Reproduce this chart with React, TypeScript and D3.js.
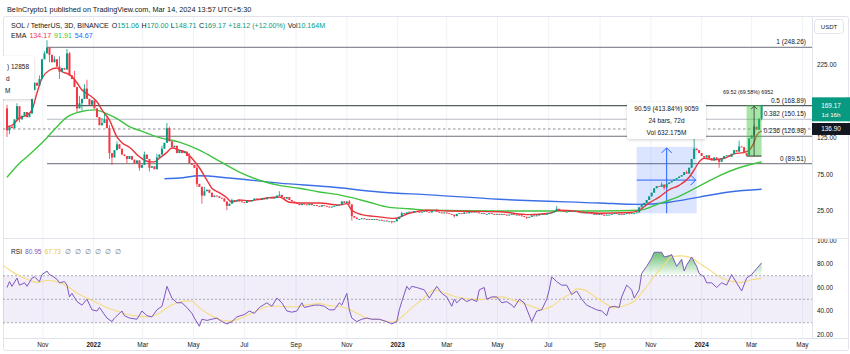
import * as d3 from "d3";

// 3-day candles, bar 0 = 2021-09-19
const startDate = "2021-09-19";
const firstOpen = 165;
const closes = [
  135, 140, 138, 150, 168, 150, 155, 160, 153, 158,
  190, 200, 196, 205, 232, 240, 248, 238, 228, 232,
  222, 215, 220, 218, 240, 210, 205, 194, 165, 172,
  178, 192, 178, 170, 176, 165, 153, 142, 145, 150,
  138, 104, 98, 108, 116, 110, 102, 100, 96, 100,
  95, 90, 94, 84, 88, 102, 96, 84, 86, 82,
  98, 102, 110, 118, 138, 120, 112, 114, 104, 108,
  104, 106, 100, 90, 88, 84, 62, 58, 46, 52,
  54, 50, 44, 46, 45, 43, 42, 38, 32, 35,
  40, 38, 40, 38, 37, 36, 39, 38, 40, 42,
  41, 40, 42, 41, 43, 44, 42, 43, 46, 47,
  44, 42, 44, 40, 38, 36, 35, 33, 35, 34,
  33, 35, 33, 33, 32, 31, 33, 32, 31, 30,
  31, 32, 33, 34, 38, 36, 38, 34, 18, 16,
  14, 14, 15, 14, 14, 13, 14, 14, 13, 13,
  12, 12, 11, 11, 10, 11, 14, 17, 22, 21,
  23, 24, 23, 25, 24, 23, 24, 25, 24, 23,
  25, 26, 24, 23, 22, 23, 22, 21, 20, 18,
  21, 22, 21, 23, 22, 24, 23, 24, 23, 22,
  22, 21, 21, 22, 21, 20, 21, 20, 21, 20,
  19, 20, 21, 20, 20, 19, 18, 17, 16, 17,
  19, 18, 19, 20, 21, 20, 21, 22, 23, 25,
  28, 26, 25, 24, 24, 25, 24, 25, 24, 23,
  23, 22, 23, 22, 21, 21, 20, 21, 20, 19,
  20, 20, 21, 22, 21, 21, 20, 21, 22, 21,
  22, 22, 23, 30, 33, 36, 40, 45, 50, 56,
  59, 58, 61, 57, 62, 64, 66, 68, 70, 72,
  74, 78, 76, 84, 96, 110, 108, 104, 100, 98,
  101, 97, 94, 98, 96, 92, 97, 100, 101, 99,
  103, 108, 106, 113, 112, 104, 101, 124, 128, 140,
  136, 151, 169,
];
const wickHighs = [
  [0, 170], [4, 172], [10, 195], [13, 210], [15, 243], [16, 258], [19, 236], [21, 236],
  [24, 246], [25, 242], [27, 216], [29, 182], [31, 198], [32, 204], [38, 152], [39, 158],
  [40, 155], [41, 142], [44, 120], [55, 106], [60, 103], [62, 114], [64, 145], [65, 140],
  [73, 104], [76, 88], [79, 58], [90, 42], [109, 52], [137, 40], [158, 24], [172, 28],
  [220, 32], [262, 64], [272, 80], [275, 126], [293, 121], [299, 142], [302, 170],
];
const wickLows = [
  [0, 126], [1, 130], [5, 146], [17, 228], [21, 205], [28, 160], [30, 162], [41, 96],
  [42, 88], [48, 90], [53, 80], [57, 79], [76, 58], [78, 35], [88, 26], [138, 12],
  [154, 8], [179, 16], [208, 14], [239, 18], [263, 54], [285, 84], [296, 99.91], [302, 148.71],
];

// EMA lines, [bar, price]
const emaFast = [
  [0, 140], [2, 142], [5, 152], [8, 156], [10, 163], [12, 186], [14, 206], [17, 217], [20, 220],
  [22, 215], [25, 211], [28, 200], [30, 190], [33, 183], [36, 174], [38, 163], [41, 149], [44, 126],
  [46, 118], [49, 112], [53, 99], [57, 92], [59, 92], [61, 97], [64, 105], [66, 111], [69, 108],
  [72, 104], [74, 97], [77, 84], [80, 67], [82, 56], [85, 50], [88, 43], [90, 37], [93, 40],
  [97, 39], [101, 41], [105, 43], [109, 44], [113, 37], [117, 36], [125, 36], [133, 33], [136, 35],
  [138, 26], [142, 20], [149, 17], [155, 15], [161, 22], [168, 26], [177, 25], [197, 24], [209, 20],
  [217, 22], [221, 26], [237, 22], [249, 23], [253, 26], [257, 36], [261, 44], [265, 54], [269, 60],
  [273, 71], [275, 81], [277, 92], [279, 97], [283, 95], [287, 97], [291, 103], [295, 105],
  [297, 108], [299, 119], [300, 128], [302, 134.17],
];
const emaMid = [
  [0, 71], [5, 90], [10, 105], [16, 125], [20, 140], [24, 153], [29, 160], [35, 163], [41, 156],
  [45, 149], [49, 140], [53, 135], [61, 125], [69, 119], [77, 108], [85, 93], [93, 78], [101, 67],
  [109, 60], [117, 56], [125, 51], [133, 47], [137, 44], [145, 37], [153, 30], [161, 28], [169, 26],
  [197, 25], [237, 25], [253, 26], [261, 35], [269, 45], [277, 59], [285, 73], [293, 84], [302, 91.91],
];
const emaSlow = [
  [63, 69], [69, 70], [77, 73], [89, 70], [109, 63], [129, 58], [149, 51], [169, 47], [197, 41],
  [237, 36], [253, 34], [265, 37], [277, 44], [289, 51], [302, 54.67],
];

// RSI and its moving average, [bar, value]
const rsiValues = [
  [0, 60], [1, 65], [2, 61], [4, 68], [5, 62], [7, 64], [8, 61], [10, 68], [11, 69], [13, 65],
  [14, 71], [16, 74], [17, 71], [18, 70], [20, 67], [21, 64], [23, 65], [24, 62], [25, 52], [26, 55],
  [28, 48], [30, 45], [32, 50], [34, 41], [36, 40], [37, 43], [38, 40], [40, 34], [42, 31], [43, 34],
  [46, 40], [47, 36], [49, 34], [52, 33], [54, 40], [56, 36], [58, 35], [60, 41], [62, 44], [63, 52],
  [64, 61], [66, 51], [68, 47], [70, 47], [72, 43], [74, 38], [75, 34], [77, 27], [78, 33], [80, 32],
  [82, 33], [84, 34], [86, 31], [88, 29], [90, 31], [92, 35], [95, 37], [97, 40], [99, 38], [101, 43],
  [104, 47], [106, 44], [108, 51], [110, 47], [112, 40], [114, 39], [116, 40], [118, 47], [119, 43],
  [121, 44], [123, 45], [125, 45], [127, 44], [129, 41], [131, 41], [133, 47], [134, 45], [136, 55],
  [137, 41], [138, 34], [140, 31], [142, 33], [144, 34], [146, 33], [149, 33], [152, 31], [154, 29],
  [156, 31], [157, 41], [158, 48], [160, 61], [161, 58], [162, 61], [164, 60], [167, 58], [169, 51],
  [172, 61], [174, 55], [176, 52], [178, 44], [179, 50], [180, 47], [182, 51], [184, 48], [186, 50],
  [188, 48], [189, 58], [191, 60], [192, 50], [194, 52], [196, 52], [198, 47], [200, 48], [202, 45],
  [203, 43], [205, 50], [207, 47], [210, 31], [212, 40], [214, 41], [216, 50], [217, 58], [218, 69],
  [220, 65], [222, 62], [224, 62], [226, 54], [228, 57], [230, 50], [232, 45], [234, 43], [236, 41],
  [238, 40], [240, 36], [241, 43], [243, 44], [245, 43], [246, 52], [248, 62], [250, 58], [251, 51],
  [253, 58], [254, 72], [256, 78], [258, 85], [259, 90], [262, 90], [263, 86], [265, 87], [266, 88],
  [268, 78], [270, 84], [271, 74], [272, 79], [274, 86], [276, 78], [277, 72], [279, 69], [280, 64],
  [282, 64], [284, 60], [286, 64], [288, 62], [290, 71], [292, 64], [294, 57], [296, 68], [298, 71],
  [300, 76], [302, 80.95],
];
const rsiMa = [
  [-3, 81], [0, 76.5], [4, 71], [8, 67], [12, 64.4], [16, 66], [20, 65], [24, 61], [28, 55.4],
  [32, 51], [36, 47], [40, 42.7], [44, 40], [48, 37], [52, 35.6], [56, 35], [60, 37], [64, 42.7],
  [68, 47], [72, 48.6], [74, 48.3], [77, 42.7], [81, 37], [85, 32.8], [89, 31.4], [93, 33.4],
  [97, 37], [101, 41.3], [105, 44], [109, 44], [113, 43.5], [117, 44], [121, 45.5], [125, 46.3],
  [129, 44.6], [133, 44], [137, 41.3], [141, 37], [145, 33.4], [149, 32.8], [153, 30.6], [156, 31.4],
  [158, 35], [162, 42.7], [166, 49.4], [171, 58], [175, 55.4], [179, 52.5], [184, 50.3], [190, 49.7],
  [194, 51], [198, 52], [202, 49.7], [206, 47], [210, 44], [214, 41.3], [218, 44], [222, 50.3],
  [226, 55.4], [228, 58.8], [231, 58], [235, 52.5], [239, 47], [243, 42.7], [247, 44.6], [251, 48.3],
  [255, 58], [259, 69.4], [263, 79.3], [266, 86.3], [270, 86.9], [274, 85], [278, 79.3], [282, 73.7],
  [286, 68], [290, 65.2], [294, 64.4], [298, 66.6], [302, 67.73],
];

// fib retracement drawn from the Nov 2021 high
const fibRatios = ["1", "0.5", "0.382", "0.236", "0"];
const fibPrices = [248.26, 168.89, 150.15, 126.98, 89.51];
const fibColors = ["#8a8d96", "#55605d", "#b9bcc4", "#6f727c", "#85888f"];
const fibStartBar = 16;
const markedPrice = 136.9;
const lastPrice = 169.17;

// measurement drawings: [fromBar, toBar, lowPrice, highPrice]
const blueRange = [252, 276, 21.89, 112.48];
const greenRange = [296, 302, 99.91, 169.43];

const priceTicks = [25, 75, 125, 175, 225];
const rsiTicks = [20, 40, 60, 80, 100];
const rsiLevels = [70, 50, 30];
const timeTicks = [
  "2021-11-01", "2022-01-01", "2022-03-01", "2022-05-01", "2022-07-01", "2022-09-01",
  "2022-11-01", "2023-01-01", "2023-03-01", "2023-05-01", "2023-07-01", "2023-09-01",
  "2023-11-01", "2024-01-01", "2024-03-01", "2024-05-01",
];
const timeLabels = ["Nov", "2022", "Mar", "May", "Jul", "Sep", "Nov", "2023", "Mar", "May", "Jul", "Sep", "Nov", "2024", "Mar", "May"];

const F = "'Liberation Sans', Arial, Helvetica, sans-serif";
const TXT = "#131722";
const UP = "#089981";
const DOWN = "#f23645";
const PL = 3, PR = 812;
const PT = 17, PB = 238;
const RT = 239, RB = 338;

export default function App() {
  const xs = d3.scaleLinear().domain([0, 302]).range([7, 761.6]);
  const ps = d3.scaleLinear().domain([25, 225]).range([211, 64.4]);
  const rs = d3.scaleLinear().domain([20, 100]).range([334.5, 240.5]);
  const t0 = Date.parse(startDate + "T00:00:00Z");
  const toBar = (s: string) => (Date.parse(s + "T00:00:00Z") - t0) / (3 * 86400000);

  const hi = new Map(wickHighs.map((d) => [d[0], d[1]]));
  const lo = new Map(wickLows.map((d) => [d[0], d[1]]));
  const candles = closes.map((c, i) => {
    const o = i === 0 ? firstOpen : closes[i - 1];
    return {
      i, o, c,
      h: Math.max(o, c, hi.get(i) ?? 0),
      l: Math.min(o, c, lo.get(i) ?? 1e9),
    };
  });

  const priceLine = d3.line<number[]>().x((d) => xs(d[0])).y((d) => ps(d[1])).curve(d3.curveMonotoneX);
  const rsiLine = d3.line<number[]>().x((d) => xs(d[0])).y((d) => rs(d[1]));
  const maLine = d3.line<number[]>().x((d) => xs(d[0])).y((d) => rs(d[1])).curve(d3.curveMonotoneX);
  const obArea = d3.area<number[]>().x((d) => xs(d[0])).y0(rs(70)).y1((d) => rs(d[1]));
  const osArea = d3.area<number[]>().x((d) => xs(d[0])).y0(rs(30)).y1((d) => rs(d[1]));

  const [bx0, bx1, bLo, bHi] = blueRange;
  const bL = xs(bx0), bR = xs(bx1), bT = ps(bHi), bB = ps(bLo);
  const bMidX = xs((bx0 + bx1) / 2), bMidY = ps((bLo + bHi) / 2);
  const [gx0, gx1, gLo, gHi] = greenRange;
  const gL = xs(gx0), gR = xs(gx1), gT = ps(gHi), gB = ps(gLo);
  const gMidX = (gL + gR) / 2;
  const fibX = xs(fibStartBar);
  const lastTop = ps(lastPrice) - 8;

  const legendOHLC = [["O", "151.06"], ["H", "170.00"], ["L", "148.71"], ["C", "169.17"]];

  return (
    <svg width={850} height={354} style={{ position: "absolute", left: 0, top: 0, background: "#fff" }} fontFamily={F}>
      <defs>
        <clipPath id="pricePane"><rect x={PL} y={PT} width={PR - PL} height={PB - PT} /></clipPath>
        <clipPath id="rsiPane"><rect x={PL} y={RT} width={PR - PL} height={RB - RT} /></clipPath>
        <clipPath id="obClip"><rect x={PL} y={RT} width={PR - PL} height={rs(70) - RT} /></clipPath>
        <clipPath id="osClip"><rect x={PL} y={rs(30)} width={PR - PL} height={RB - rs(30)} /></clipPath>
        <clipPath id="axisR"><rect x={PR} y={RT} width={850 - PR} height={RB - RT} /></clipPath>
        <clipPath id="axisHidden"><rect x={PR} y={PT} width={850 - PR} height={lastTop - PT} /></clipPath>
        <linearGradient id="obGrad" gradientUnits="userSpaceOnUse" x1={0} y1={rs(92)} x2={0} y2={rs(70)}>
          <stop offset="0" stopColor="#3fae4a" stopOpacity={0.85} />
          <stop offset="1" stopColor="#3fae4a" stopOpacity={0.02} />
        </linearGradient>
        <linearGradient id="osGrad" gradientUnits="userSpaceOnUse" x1={0} y1={rs(30)} x2={0} y2={rs(22)}>
          <stop offset="0" stopColor="#f23645" stopOpacity={0.02} />
          <stop offset="1" stopColor="#f23645" stopOpacity={0.6} />
        </linearGradient>
        <filter id="shadow" x="-20%" y="-30%" width="140%" height="160%">
          <feDropShadow dx={0} dy={1} stdDeviation={1.5} floodColor="#000" floodOpacity={0.18} />
        </filter>
      </defs>

      <text x={7} y={12} fontSize={7.3} fill={TXT}>BeInCrypto1 published on TradingView.com, Mar 14, 2024 13:57 UTC+5:30</text>

      {/* frame and separators */}
      <rect x={PL + 0.5} y={PT - 0.5} width={845} height={334} rx={2} fill="#fff" stroke="#e0e3eb" />
      {timeTicks.map((t, i) => (
        <line key={"vg" + i} x1={xs(toBar(t))} x2={xs(toBar(t))} y1={PT} y2={RB} stroke="#f0f2f7" />
      ))}
      <line x1={PL} x2={849} y1={PB + 0.5} y2={PB + 0.5} stroke="#e0e3eb" />
      <line x1={PL} x2={849} y1={RB + 0.5} y2={RB + 0.5} stroke="#e0e3eb" />
      <line x1={PR + 0.5} x2={PR + 0.5} y1={PT} y2={RB} stroke="#e0e3eb" />

      {/* price pane */}
      <g clipPath="url(#pricePane)">
        {fibPrices.map((p, i) => (
          <line key={"fib" + i} x1={fibX} x2={PR} y1={ps(p)} y2={ps(p)} stroke={fibColors[i]} strokeWidth={1.2} />
        ))}
        <line x1={PL} x2={PR} y1={ps(markedPrice)} y2={ps(markedPrice)} stroke="#8a8d96" strokeDasharray="2.5,2.5" />
        {fibPrices.map((p, i) => (
          <text key={"fl" + i} x={806} y={ps(p) - 3} fontSize={6.5} fill={TXT} textAnchor="end">
            {fibRatios[i]} ({p.toFixed(2)})
          </text>
        ))}

        <rect x={bL} y={bT} width={bR - bL} height={bB - bT} fill="rgba(41,98,255,0.17)" />
        <line x1={bMidX} x2={bMidX} y1={bB} y2={bT + 1} stroke="#2962ff" />
        <path d={`M${bMidX - 5},${bT + 6}L${bMidX},${bT + 1}L${bMidX + 5},${bT + 6}`} fill="none" stroke="#2962ff" />
        <line x1={bL} x2={bR - 1} y1={bMidY} y2={bMidY} stroke="#2962ff" />
        <path d={`M${bR - 6},${bMidY - 5}L${bR - 1},${bMidY}L${bR - 6},${bMidY + 5}`} fill="none" stroke="#2962ff" />

        <path d={priceLine(emaSlow) ?? ""} fill="none" stroke="#3b6fe6" strokeWidth={1.4} />
        <path d={priceLine(emaMid) ?? ""} fill="none" stroke="#3ec43e" strokeWidth={1.4} />
        <path d={priceLine(emaFast) ?? ""} fill="none" stroke="#e8343c" strokeWidth={1.4} />

        {candles.map((d) => {
          const col = d.c >= d.o ? UP : DOWN;
          const top = ps(Math.max(d.o, d.c));
          const bot = ps(Math.min(d.o, d.c));
          return (
            <g key={"c" + d.i}>
              <line x1={xs(d.i)} x2={xs(d.i)} y1={ps(d.h)} y2={ps(d.l)} stroke={col} strokeWidth={0.8} />
              <rect x={xs(d.i) - 1} y={top} width={2} height={Math.max(0.9, bot - top)} fill={col} />
            </g>
          );
        })}

        <rect x={gL} y={gT} width={gR - gL} height={gB - gT} fill="rgba(60,200,60,0.45)" />
        <line x1={gL} x2={gR} y1={gB} y2={gB} stroke="#333" />
        <line x1={gMidX} x2={gMidX} y1={gB} y2={gT + 1} stroke="#333" strokeWidth={0.8} />
        <path d={`M${gMidX - 3},${gT + 4}L${gMidX},${gT + 1}L${gMidX + 3},${gT + 4}`} fill="none" stroke="#333" strokeWidth={0.8} />
        <text x={gMidX - 6} y={94} fontSize={5.4} fill={TXT} textAnchor="middle">69.52 (69.58%) 6952</text>

        <g filter="url(#shadow)">
          <rect x={627} y={102} width={79} height={37} rx={2} fill="#fff" />
          <rect x={-46} y={56} width={80} height={43} rx={2} fill="#fff" />
        </g>
        <g fontSize={6.5} fill={TXT} textAnchor="middle">
          <text x={666.5} y={110.5}>90.59 (413.84%) 9059</text>
          <text x={666.5} y={123}>24 bars, 72d</text>
          <text x={666.5} y={135}>Vol 632.175M</text>
        </g>
        <g fontSize={6.5} fill={TXT} textAnchor="end">
          <text x={29} y={68.5}>) 12858</text>
          <text x={9.5} y={81}>d</text>
          <text x={10.5} y={93}>M</text>
        </g>
      </g>

      {/* legends */}
      <text x={11} y={28.3} fontSize={7.1} fill={TXT}>
        SOL / TetherUS, 3D, BINANCE
        {legendOHLC.map((d, i) => (
          <tspan key={"lg" + i}>
            <tspan dx={i === 0 ? 3 : 2.5}>{d[0]}</tspan>
            <tspan fill={UP}>{d[1]}</tspan>
          </tspan>
        ))}
        <tspan fill={UP} dx={2.5}>+18.12 (+12.00%)</tspan>
        <tspan dx={2.5}>Vol</tspan>
        <tspan fill={UP}>10.164M</tspan>
      </text>
      <text x={11} y={38.3} fontSize={7.1} fill={TXT}>
        EMA
        <tspan dx={3} fill="#f23645">134.17</tspan>
        <tspan dx={3} fill="#3ec43e">91.91</tspan>
        <tspan dx={3} fill="#2962ff">54.67</tspan>
      </text>

      {/* RSI pane */}
      <g clipPath="url(#rsiPane)">
        <rect x={PL} y={rs(70)} width={PR - PL} height={rs(30) - rs(70)} fill="rgba(126,87,194,0.1)" />
        {rsiLevels.map((v) => (
          <line key={"rl" + v} x1={PL} x2={PR} y1={rs(v)} y2={rs(v)} stroke="#9598a1" strokeDasharray="2,2" strokeWidth={0.8} />
        ))}
        <path d={obArea(rsiValues) ?? ""} fill="url(#obGrad)" clipPath="url(#obClip)" />
        <path d={osArea(rsiValues) ?? ""} fill="url(#osGrad)" clipPath="url(#osClip)" />
        <path d={maLine(rsiMa) ?? ""} fill="none" stroke="#f5dc82" strokeWidth={1.1} />
        <path d={rsiLine(rsiValues) ?? ""} fill="none" stroke="#7e57c2" strokeWidth={1} />
      </g>
      <text x={11} y={253.5} fontSize={6.6} fill={TXT}>
        RSI
        <tspan dx={3} fill="#7e57c2">80.95</tspan>
        <tspan dx={3} fill="#e6c34f">67.73</tspan>
        {[0, 1, 2, 3, 4, 5].map((k) => (
          <tspan key={"e" + k} dx={4} fill="#787b86">∅</tspan>
        ))}
      </text>

      {/* price axis */}
      {priceTicks.filter((p) => ps(p) + 3 < lastTop || ps(p) - 3 > lastTop + 24).map((p) => (
        <text key={"pt" + p} x={817} y={ps(p) + 2.3} fontSize={6.4} fill={TXT}>{p.toFixed(2)}</text>
      ))}
      <g clipPath="url(#axisHidden)">
        {priceTicks.filter((p) => !(ps(p) + 3 < lastTop || ps(p) - 3 > lastTop + 24)).map((p) => (
          <text key={"ph" + p} x={817} y={ps(p) + 2.3} fontSize={6.4} fill={TXT}>{p.toFixed(2)}</text>
        ))}
      </g>
      <g clipPath="url(#axisR)">
        {rsiTicks.map((v) => (
          <text key={"rt" + v} x={817} y={rs(v) + 2.3} fontSize={6.4} fill={TXT}>{v.toFixed(2)}</text>
        ))}
      </g>
      <rect x={814.5} y={19.5} width={29} height={14} rx={3} fill="#fff" stroke="#e0e3eb" />
      <text x={829} y={28.5} fontSize={6} fill={TXT} textAnchor="middle">USDT</text>
      <rect x={PR} y={lastTop} width={38} height={24} fill={UP} />
      <text x={831} y={ps(lastPrice) + 2.3} fontSize={6.4} fill="#fff" textAnchor="middle">{lastPrice.toFixed(2)}</text>
      <text x={831} y={ps(lastPrice) + 11.5} fontSize={6.2} fill="#fff" textAnchor="middle">1d 16h</text>
      <rect x={PR} y={ps(markedPrice) - 6} width={38} height={12} fill="#131722" />
      <text x={831} y={ps(markedPrice) + 2.3} fontSize={6.4} fill="#fff" textAnchor="middle">{markedPrice.toFixed(2)}</text>

      {/* time axis */}
      {timeTicks.map((t, i) => (
        <text
          key={"tl" + i}
          x={xs(toBar(t))}
          y={346.5}
          fontSize={6.4}
          fill={TXT}
          textAnchor="middle"
          fontWeight={timeLabels[i].length === 4 ? "bold" : "normal"}
        >
          {timeLabels[i]}
        </text>
      ))}
    </svg>
  );
}
